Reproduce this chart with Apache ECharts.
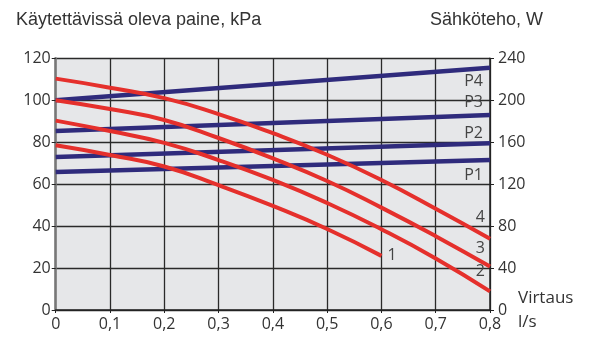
<!DOCTYPE html>
<html>
<head>
<meta charset="utf-8">
<script src="https://cdn.jsdelivr.net/npm/echarts@6/dist/echarts.min.js"></script>
<style>
  html, body { margin: 0; padding: 0; background: #fff; }
  #chart { width: 590px; height: 341px; }
</style>
</head>
<body>
<div id="chart"></div>
<script>
// virtaus l/s
const flow = [0, 0.1, 0.2, 0.3, 0.4, 0.5, 0.6, 0.7, 0.8]
// käytettävissä oleva paine kPa, käyrät 1-4
const curve1 = [78.5, 73.9, 68.4, 59.5, 49.6, 38.6, 25.8]
const curve2 = [90.3, 85.3, 79.7, 71.5, 62, 51, 38.5, 24.6, 8.9]
const curve3 = [100, 95.8, 90.6, 82, 72.3, 61.5, 48.8, 35.2, 20.7]
const curve4 = [110.3, 106, 101, 93.4, 84.3, 74, 62, 48.3, 34]
// sähköteho W, suorat P1-P4 (alku ja loppu)
const powerFlow = [0, 0.8]
const powerP1 = [131.5, 143]
const powerP2 = [146, 159]
const powerP3 = [170.6, 186]
const powerP4 = [200, 231]

const zip = (xs, ys) => ys.map((y, i) => [xs[i], y])

const RED = '#e5302c'
const BLUE = '#2f2b7c'
const tickFont = { fontFamily: 'Open Sans', fontSize: 16, color: '#333' }

// endLabel: align asetetaan itse, siirto offsetilla
const pressureLine = (name, values, align, offset) => ({
  name,
  type: 'line',
  yAxisIndex: 0,
  data: zip(flow, values),
  smooth: 0.5,
  symbol: 'none',
  lineStyle: { color: RED, width: 4 },
  z: 3,
  endLabel: {
    show: true,
    formatter: name,
    align,
    distance: 0,
    offset,
    fontFamily: 'Open Sans',
    fontSize: 16,
    color: '#444'
  }
})

const powerLine = (name, values, offset) => ({
  name,
  type: 'line',
  yAxisIndex: 1,
  data: zip(powerFlow, values),
  symbol: 'none',
  lineStyle: { color: BLUE, width: 4.5 },
  z: 2,
  endLabel: {
    show: true,
    formatter: name,
    align: 'right',
    distance: 0,
    offset,
    fontFamily: 'Open Sans',
    fontSize: 16,
    color: '#444'
  }
})

const chart = echarts.init(document.getElementById('chart'), null, { renderer: 'canvas' })

const option = {
  backgroundColor: '#fff',
  animation: false,
  title: [
    {
      text: 'Käytettävissä oleva paine, kPa',
      left: 11, top: 6,
      textStyle: { fontFamily: 'Liberation Sans', fontSize: 18, fontWeight: 'normal', color: '#333' }
    },
    {
      text: 'Sähköteho, W',
      right: 42, top: 6,
      textStyle: { fontFamily: 'Liberation Sans', fontSize: 18, fontWeight: 'normal', color: '#333' }
    }
  ],
  grid: {
    left: 55.7, right: 100, top: 58.3, bottom: 27,
    show: true, backgroundColor: '#e6e7e9', borderWidth: 0
  },
  xAxis: {
    type: 'value',
    min: 0, max: 0.8, interval: 0.1,
    name: 'Virtaus\nl/s',
    nameLocation: 'end',
    nameGap: 28,
    nameTextStyle: {
      fontFamily: 'Open Sans', fontSize: 17, color: '#333',
      align: 'left', verticalAlign: 'middle', lineHeight: 24, padding: [14, 0, 0, 0]
    },
    axisLine: { show: true, lineStyle: { color: '#222', width: 1.5 } },
    axisTick: { show: true, length: 3, lineStyle: { color: '#222' } },
    axisLabel: {
      ...tickFont, margin: 6,
      formatter: v => v === 0 ? '0' : v.toFixed(1).replace('.', ',')
    },
    splitLine: { show: true, lineStyle: { color: '#2a2a2a', width: 1.3 } }
  },
  yAxis: [
    {
      type: 'value',
      min: 0, max: 120, interval: 20,
      axisLine: { show: true, lineStyle: { color: '#777', width: 2.5 } },
      axisTick: { show: true, length: 4, lineStyle: { color: '#222' } },
      axisLabel: { ...tickFont, margin: 5 },
      splitLine: { show: true, lineStyle: { color: '#2a2a2a', width: 1.3 } }
    },
    {
      type: 'value',
      min: 0, max: 240, interval: 40,
      position: 'right',
      axisLine: { show: true, lineStyle: { color: '#222', width: 1.5 } },
      axisTick: { show: true, length: 4, lineStyle: { color: '#222' } },
      axisLabel: { ...tickFont, margin: 8 },
      splitLine: { show: false }
    }
  ],
  series: [
    powerLine('P1', powerP1, [-7, 15]),
    powerLine('P2', powerP2, [-7, -10]),
    powerLine('P3', powerP3, [-7, -12]),
    powerLine('P4', powerP4, [-7, 14]),
    pressureLine('1', curve1, 'left', [6, 0]),
    pressureLine('2', curve2, 'right', [-5, -20]),
    pressureLine('3', curve3, 'right', [-5, -18]),
    pressureLine('4', curve4, 'right', [-5, -21])
  ]
}

chart.setOption(option)
window.addEventListener('resize', () => chart.resize())
</script>
</body>
</html>
